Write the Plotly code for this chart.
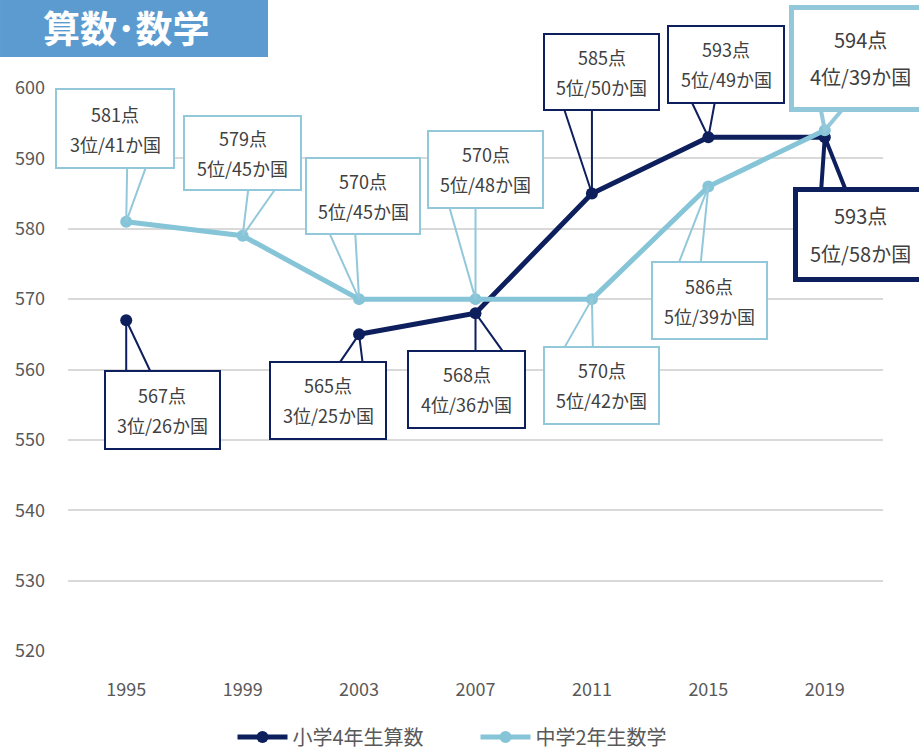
import plotly.graph_objects as go

years = [1995, 1999, 2003, 2007, 2011, 2015, 2019]

elem_name = "小学4年生算数"
elem_scores = [567, None, 565, 568, 585, 593, 593]
elem_ranks = ["3位/26か国", None, "3位/25か国", "4位/36か国", "5位/50か国", "5位/49か国", "5位/58か国"]

junior_name = "中学2年生数学"
junior_scores = [581, 579, 570, 570, 570, 586, 594]
junior_ranks = ["3位/41か国", "5位/45か国", "5位/45か国", "5位/48か国", "5位/42か国", "5位/39か国", "4位/39か国"]

NAVY = "#0d1f5c"
LIGHT = "#86c4d8"
LIGHT_BOX = "#93c8da"
TEXT = "#404040"
FONT = "Noto Sans CJK JP"

# callout layout (pixels, relative to the point): dx, dy, w, h, wedge a, wedge b, border, font, line gap
junior_pos = [
    (-11, 93, 116, 77, (1, 55), (21, 55), 2, 18, 30),
    (0, 83, 115, 72, (6, 47), (35, 47), 2, 18, 30),
    (4, 103, 112, 74, (-31, 66), (-4, 66), 2, 18, 30),
    (10, 130, 113, 75, (-27, 92), (0, 92), 2, 18, 30),
    (10, -86, 113, 75, (-29, -48), (1, -48), 2, 18, 30),
    (1, -114, 113, 75, (-31, -77), (-8, -77), 2, 18, 30),
    (36, 72, 134, 97, (-5, 23), (22, 23), 5, 20, 37),
]
elem_pos = [
    (36, -90, 113, 76, (0, -52), (26, -52), 2, 18, 30),
    None,
    (-31, -66, 114, 75, (-22, -29), (4, -29), 2, 18, 30),
    (-9, -76, 115, 75, (0, -39), (30, -39), 2, 18, 30),
    (10, 122, 113, 74, (-29, 85), (0, 85), 2, 18, 30),
    (18, 73, 114, 75, (-18, 35), (7, 35), 2, 18, 30),
    (36, -97, 126, 85, (-4, -55), (23, -55), 5, 20, 38),
]

fig = go.Figure()

fig.add_trace(go.Scatter(x=years, y=elem_scores, name=elem_name, mode="lines+markers",
                         line=dict(color=NAVY, width=5), marker=dict(size=12, color=NAVY),
                         connectgaps=False))
fig.add_trace(go.Scatter(x=years, y=junior_scores, name=junior_name, mode="lines+markers",
                         line=dict(color=LIGHT, width=5), marker=dict(size=12, color=LIGHT)))

annotations = []
shapes = []


def add_callouts(scores, ranks, pos, color):
    for year, score, rank, p in zip(years, scores, ranks, pos):
        if score is None or p is None:
            continue
        dx, dy, w, h, wa, wb, bw, fs, gap = p
        # wedge from the box edge to the point, pushed a little into the box
        push = 3 if wa[1] > 0 else -3
        shapes.append(dict(type="path", xref="x", yref="y", xsizemode="pixel", ysizemode="pixel",
                           xanchor=year, yanchor=score,
                           path=f"M {wa[0]},{wa[1] + push} L 0,0 L {wb[0]},{wb[1] + push}",
                           line=dict(color=color, width=bw if bw < 3 else 4)))
        annotations.append(dict(x=year, y=score, xref="x", yref="y", text=" ", showarrow=False,
                                xanchor="center", yanchor="middle", xshift=dx, yshift=dy,
                                width=w, height=h, borderpad=0, bgcolor="white",
                                bordercolor=color, borderwidth=bw))
        for txt, off in ((f"{score}点", gap / 2), (rank, -gap / 2)):
            annotations.append(dict(x=year, y=score, xref="x", yref="y", text=txt, showarrow=False,
                                    xanchor="center", yanchor="middle", xshift=dx, yshift=dy + off,
                                    font=dict(family=FONT, size=fs, color=TEXT)))


add_callouts(junior_scores, junior_ranks, junior_pos, LIGHT_BOX)
add_callouts(elem_scores, elem_ranks, elem_pos, NAVY)

# title block
shapes.append(dict(type="rect", xref="paper", yref="paper", x0=-0.0834, x1=0.2454, y0=1.0551, y1=1.17,
                   fillcolor="#5b9bd0", line=dict(width=0), layer="above"))
annotations.append(dict(x=0.072, y=1.1083, xref="paper", yref="paper", text="<b>算数･数学</b>",
                        showarrow=False, xanchor="center", yanchor="middle",
                        font=dict(family=FONT, size=37, color="white")))

fig.update_layout(
    width=919, height=752,
    margin=dict(l=68, r=36, t=88, b=101),
    plot_bgcolor="white", paper_bgcolor="white",
    font=dict(family=FONT, color="#595959"),
    shapes=shapes,
    annotations=annotations,
    showlegend=True,
    legend=dict(orientation="h", x=0.5, xanchor="center", yref="container", y=0.0199, yanchor="middle",
                font=dict(family=FONT, size=20, color="#595959"), itemwidth=50,
                entrywidth=178, entrywidthmode="pixels"),
)
fig.update_xaxes(range=[1993, 2021], tickvals=years, ticktext=[str(y) for y in years],
                 showgrid=False, zeroline=False, showline=False, ticks="",
                 tickfont=dict(family=FONT, size=18, color="#595959"), ticklabelstandoff=26)
fig.update_yaxes(range=[520, 600], dtick=10, showgrid=True, gridcolor="#d9d9d9", gridwidth=2,
                 zeroline=False, showline=False, ticks="",
                 tickfont=dict(family=FONT, size=18, color="#595959"), ticklabelstandoff=22)

fig.write_html("out.html", config={"displayModeBar": False},
               post_script="document.body.style.margin='0';")
